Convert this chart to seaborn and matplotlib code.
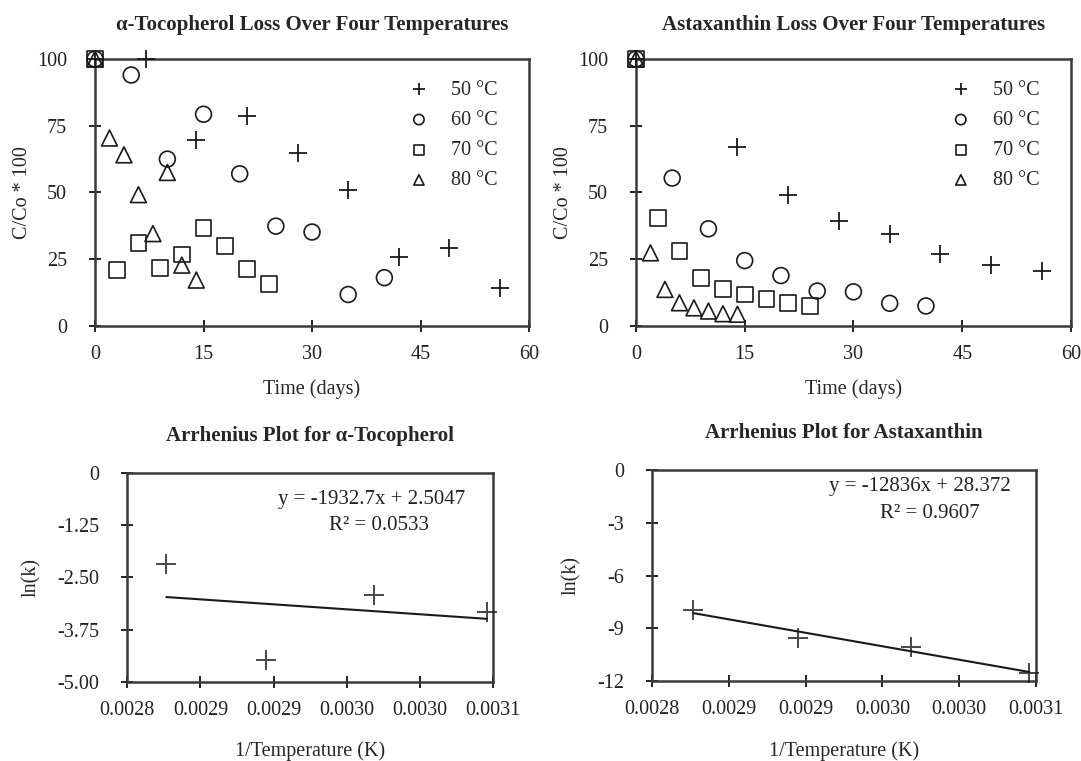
import numpy as np
import pandas as pd
import seaborn as sns
import matplotlib
matplotlib.use("Agg")
import matplotlib.pyplot as plt
from matplotlib.ticker import FormatStrFormatter

sns.set_theme(style="ticks")
plt.rcParams['font.family'] = ['Liberation Serif', 'DejaVu Serif']
plt.rcParams['axes.unicode_minus'] = False

# --- données ---
temps = ["50 °C", "60 °C", "70 °C", "80 °C"]

days_50_toco = [0, 7, 14, 21, 28, 35, 42, 49, 56]
days_50_asta = [0, 14, 21, 28, 35, 42, 49, 56]
days_60 = [0, 5, 10, 15, 20, 25, 30, 35, 40]
days_70 = [0, 3, 6, 9, 12, 15, 18, 21, 24]
days_80 = [0, 2, 4, 6, 8, 10, 12, 14]

toco_50 = [100, 100, 69.5, 78.5, 64.8, 51.1, 25.8, 29.3, 14.3]
toco_60 = [100, 94.0, 62.5, 79.3, 57.0, 37.4, 35.2, 11.8, 18.1]
toco_70 = [100, 20.9, 31.1, 21.8, 26.8, 36.7, 29.9, 21.2, 15.6]
toco_80 = [100, 70.4, 64.1, 49.2, 34.6, 57.5, 22.8, 17.2]

asta_50 = [100, 67.0, 49.2, 39.5, 34.5, 27.1, 22.8, 20.5]
asta_60 = [100, 55.4, 36.4, 24.5, 18.9, 13.1, 12.8, 8.5, 7.5]
asta_70 = [100, 40.5, 28.0, 18.1, 13.9, 11.8, 10.2, 8.7, 7.5]
asta_80 = [100, 27.4, 13.7, 8.7, 6.8, 5.6, 4.6, 4.4]

inv_temp = [0.003095, 0.003002, 0.002914, 0.002832]
lnk_toco = [-3.33, -2.91, -4.47, -2.19]
lnk_asta = [-11.53, -10.05, -9.57, -7.96]

eq_toco = ["y = -1932.7x + 2.5047", "R² = 0.0533"]
eq_asta = ["y = -12836x + 28.372", "R² = 0.9607"]

toco_series = [(days_50_toco, toco_50), (days_60, toco_60), (days_70, toco_70), (days_80, toco_80)]
asta_series = [(days_50_asta, asta_50), (days_60, asta_60), (days_70, asta_70), (days_80, asta_80)]

markers = ["+", "o", "s", "^"]
sizes = [170, 130, 130, 130]
INK = "#1a1a1a"
FS = 14.5


def style_axes(ax):
    for s in ax.spines.values():
        s.set_visible(True)
        s.set_color("#3a3a3a")
        s.set_linewidth(1.8)
    ax.tick_params(direction="inout", length=8, width=1.4, color="#222222",
                   labelsize=FS, labelcolor="#222222", bottom=True, left=True)
    ax.tick_params(axis="y", pad=16)
    ax.tick_params(axis="x", pad=10)


def loss_plot(ax, series, title):
    for (d, v), temp, m, s in zip(series, temps, markers, sizes):
        df = pd.DataFrame({"Time": d, "C": v})
        if m == "+":
            sns.scatterplot(data=df, x="Time", y="C", marker=m, s=s, color=INK,
                            linewidth=1.3, label=temp, ax=ax, clip_on=False, zorder=3)
        else:
            sns.scatterplot(data=df, x="Time", y="C", marker=m, s=s, facecolor="none",
                            edgecolor=INK, linewidth=1.2, label=temp, ax=ax,
                            clip_on=False, zorder=3)
    ax.set_xlim(0, 60)
    ax.set_ylim(0, 100)
    ax.set_xticks([0, 15, 30, 45, 60])
    ax.set_yticks([0, 25, 50, 75, 100])
    ax.set_title(title, fontsize=15, fontweight="bold", pad=21)
    ax.set_xlabel("Time (days)", fontsize=FS)
    ax.set_ylabel("C/Co * 100", fontsize=FS)
    style_axes(ax)
    ax.xaxis.set_label_coords(0.5, -0.2)
    ax.yaxis.set_label_coords(-0.145, 0.5)
    ax.legend(loc="upper right", bbox_to_anchor=(0.970, 0.987), frameon=False,
              fontsize=FS, markerscale=0.65, handletextpad=0.6, labelspacing=0.55)


def arrhenius_plot(ax, lnk, eq, title, yticks, ylabels, eq_pos):
    df = pd.DataFrame({"invT": inv_temp, "lnk": lnk})
    sns.regplot(data=df, x="invT", y="lnk", ci=None, marker="+", color=INK,
                scatter_kws={"s": 190, "linewidths": 1.4, "clip_on": False, "zorder": 3},
                line_kws={"linewidth": 1.5}, ax=ax)
    ax.set_xlim(0.0028, 0.0031)
    ax.set_ylim(yticks[-1], yticks[0])
    ax.set_xticks(np.linspace(0.0028, 0.0031, 6))
    ax.xaxis.set_major_formatter(FormatStrFormatter("%.4f"))
    ax.set_yticks(yticks)
    ax.set_yticklabels(ylabels)
    ax.set_title(title, fontsize=15, fontweight="bold", pad=23)
    ax.set_xlabel("1/Temperature (K)", fontsize=FS)
    ax.set_ylabel("ln(k)", fontsize=FS)
    style_axes(ax)
    ax.xaxis.set_label_coords(0.5, -0.285)
    for txt, (px, py) in zip(eq, eq_pos):
        ax.text(px, py, txt, transform=ax.transAxes, ha="center", va="center",
                fontsize=15, color="#222222")


fig = plt.figure(figsize=(10.81, 7.61), dpi=100)

ax1 = fig.add_axes([0.0879, 0.5716, 0.4015, 0.3509])
loss_plot(ax1, toco_series, "α-Tocopherol Loss Over Four Temperatures")

ax2 = fig.add_axes([0.5883, 0.5716, 0.4024, 0.3509])
loss_plot(ax2, asta_series, "Astaxanthin Loss Over Four Temperatures")

ax3 = fig.add_axes([0.1178, 0.1038, 0.3383, 0.2750])
arrhenius_plot(ax3, lnk_toco, eq_toco, "Arrhenius Plot for α-Tocopherol",
               [0, -1.25, -2.5, -3.75, -5], ["0", "-1.25", "-2.50", "-3.75", "-5.00"],
               [(0.668, 0.874), (0.687, 0.750)])
ax3.yaxis.set_label_coords(-0.236, 0.5)

ax4 = fig.add_axes([0.6034, 0.1051, 0.3548, 0.2773])
arrhenius_plot(ax4, lnk_asta, eq_asta, "Arrhenius Plot for Astaxanthin",
               [0, -3, -6, -9, -12], ["0", "-3", "-6", "-9", "-12"],
               [(0.698, 0.924), (0.725, 0.796)])
ax4.yaxis.set_label_coords(-0.186, 0.5)

fig.savefig("out.png", dpi=100, facecolor="white")
